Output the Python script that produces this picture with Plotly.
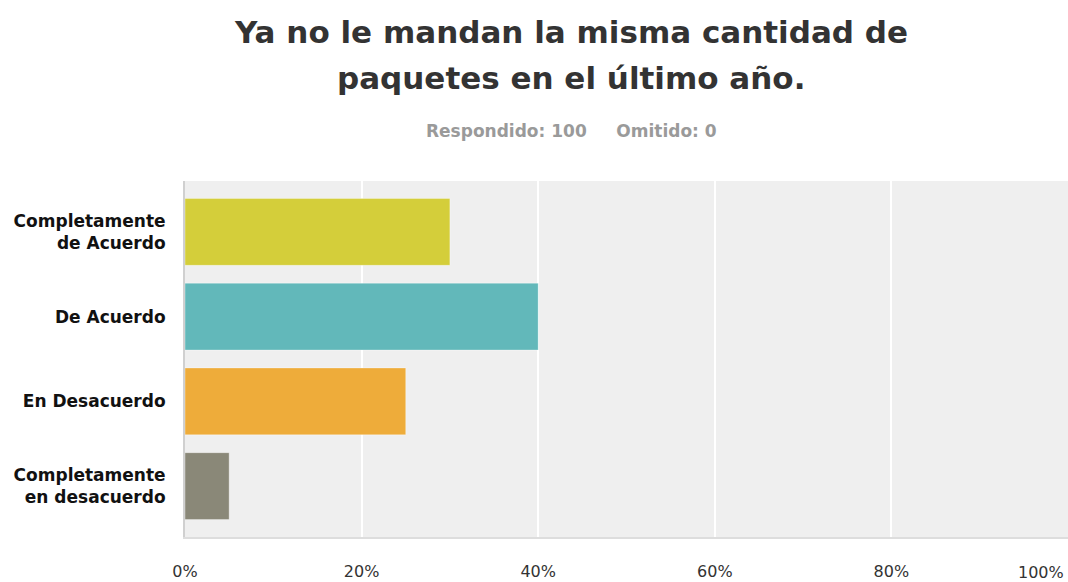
import plotly.graph_objects as go

categories = ["Completamente<br>de Acuerdo", "De Acuerdo", "En Desacuerdo", "Completamente<br>en desacuerdo"]
values = [30, 40, 25, 5]
colors = ["#D4CE3A", "#62B8BA", "#EEAC3A", "#8A8878"]
x_ticks = [0, 20, 40, 60, 80, 100]
x_labels = ["0%", "20%", "40%", "60%", "80%", "100%"]

W, H = 1068, 582
L, R, T, B = 185, 0, 181, 45
FONT = "DejaVu Sans, Arial, sans-serif"

fig = go.Figure(go.Bar(
    x=values, y=categories, orientation="h",
    marker=dict(color=colors, line=dict(color="rgba(255,255,255,0.35)", width=1)),
    width=0.79, hoverinfo="skip"
))

def px_x(p):
    return (p - L) / (W - L - R)

def px_y(p):
    return (H - B - p) / (H - T - B)

fig.update_layout(
    width=W, height=H,
    margin=dict(l=L, r=R, t=T, b=B, pad=0),
    paper_bgcolor="white", plot_bgcolor="#EFEFEF",
    showlegend=False,
    font=dict(family=FONT, color="#333"),
    xaxis=dict(range=[0, 100], tickvals=x_ticks, ticktext=x_labels[:-1] + [""],
               showgrid=True, gridcolor="white", gridwidth=2, automargin=False,
               zeroline=False, showline=True, linecolor="#DDDDDD", linewidth=2,
               tickfont=dict(size=16, color="#333", family=FONT), ticklabelstandoff=19, fixedrange=True),
    yaxis=dict(autorange=False, range=[3.6, -0.6], categoryorder="array", categoryarray=categories,
               showgrid=False, zeroline=False, showline=True, linecolor="#D0D0D0", linewidth=2,
               automargin=False,
               tickfont=dict(size=17, color="#111", family=FONT, weight="bold"),
               ticklabelstandoff=14, fixedrange=True),
    annotations=[
        dict(text="<b>Ya no le mandan la misma cantidad de</b>", x=px_x(571), y=px_y(32),
             xref="paper", yref="paper", showarrow=False, xanchor="center", yanchor="middle",
             font=dict(size=31, color="#333", family=FONT)),
        dict(text="<b>paquetes en el último año.</b>", x=px_x(571), y=px_y(78),
             xref="paper", yref="paper", showarrow=False, xanchor="center", yanchor="middle",
             font=dict(size=31, color="#333", family=FONT)),
        dict(text="<b>Respondido: 100&nbsp;&nbsp;&nbsp;&nbsp;&nbsp;Omitido: 0</b>", x=px_x(571), y=px_y(131),
             xref="paper", yref="paper", showarrow=False, xanchor="center", yanchor="middle",
             font=dict(size=17, color="#9A9A9A", family=FONT)),
        dict(text=x_labels[-1], x=1, y=px_y(572), xref="paper", yref="paper",
             showarrow=False, xanchor="right", yanchor="middle", xshift=-2,
             font=dict(size=16, color="#333", family=FONT)),
    ],
)

fig.write_html("out.html", config={"displayModeBar": False},
               post_script="document.body.style.margin='0';document.body.style.overflow='hidden';")
